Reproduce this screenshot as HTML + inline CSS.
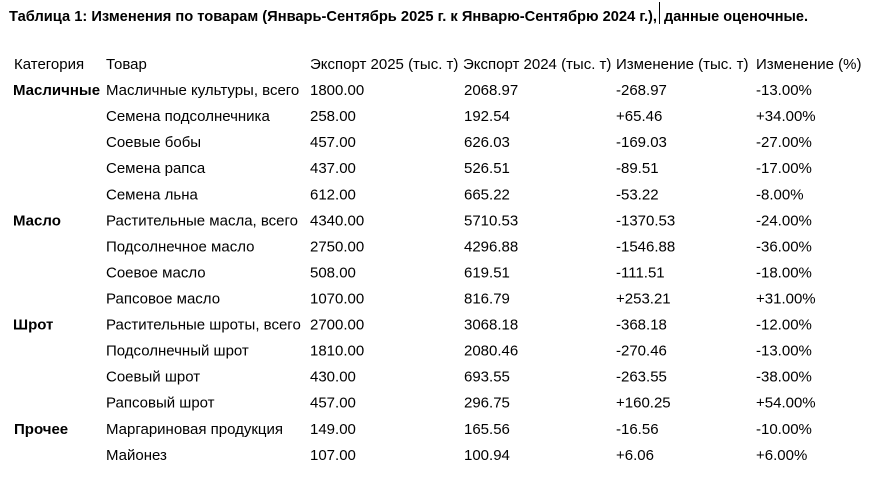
<!DOCTYPE html>
<html><head><meta charset="utf-8"><style>
html,body{margin:0;padding:0;background:#fff;}
svg{display:block;}
text{font-family:"Liberation Sans","Noto Sans CJK SC",sans-serif;font-size:15px;fill:#000;}
.b{font-weight:bold;}
</style></head><body>
<svg width="870" height="487" viewBox="0 0 870 487" xmlns="http://www.w3.org/2000/svg">
<rect width="870" height="487" fill="#fff"/>
<text class="b" x="9" y="21" textLength="648" lengthAdjust="spacingAndGlyphs">Таблица 1: Изменения по товарам (Январь-Сентябрь 2025 г. к Январю-Сентябрю 2024 г.),</text>
<line x1="659.5" y1="2" x2="659.5" y2="24" stroke="#000" stroke-width="1"/>
<text class="b" x="664" y="21" textLength="144" lengthAdjust="spacingAndGlyphs">данные оценочные.</text>

<g>
<text x="14" y="69">Категория</text><text x="106" y="69">Товар</text><text x="310" y="69">Экспорт 2025 (тыс. т)</text><text x="463" y="69">Экспорт 2024 (тыс. т)</text><text x="616" y="69">Изменение (тыс. т)</text><text x="756" y="69">Изменение (%)</text>

<text class="b" x="13" y="95">Масличные</text><text x="106" y="95">Масличные культуры, всего</text><text x="310" y="95">1800.00</text><text x="464" y="95">2068.97</text><text x="616" y="95">-268.97</text><text x="756" y="95">-13.00%</text>
<text x="106" y="121">Семена подсолнечника</text><text x="310" y="121">258.00</text><text x="464" y="121">192.54</text><text x="616" y="121">+65.46</text><text x="756" y="121">+34.00%</text>
<text x="106" y="147">Соевые бобы</text><text x="310" y="147">457.00</text><text x="464" y="147">626.03</text><text x="616" y="147">-169.03</text><text x="756" y="147">-27.00%</text>
<text x="106" y="173">Семена рапса</text><text x="310" y="173">437.00</text><text x="464" y="173">526.51</text><text x="616" y="173">-89.51</text><text x="756" y="173">-17.00%</text>
<text x="106" y="199.5">Семена льна</text><text x="310" y="199.5">612.00</text><text x="464" y="199.5">665.22</text><text x="616" y="199.5">-53.22</text><text x="756" y="199.5">-8.00%</text>

<text class="b" x="13" y="225.5">Масло</text><text x="106" y="225.5">Растительные масла, всего</text><text x="310" y="225.5">4340.00</text><text x="464" y="225.5">5710.53</text><text x="616" y="225.5">-1370.53</text><text x="756" y="225.5">-24.00%</text>
<text x="106" y="251.5">Подсолнечное масло</text><text x="310" y="251.5">2750.00</text><text x="464" y="251.5">4296.88</text><text x="616" y="251.5">-1546.88</text><text x="756" y="251.5">-36.00%</text>
<text x="106" y="277.5">Соевое масло</text><text x="310" y="277.5">508.00</text><text x="464" y="277.5">619.51</text><text x="616" y="277.5">-111.51</text><text x="756" y="277.5">-18.00%</text>
<text x="106" y="303.5">Рапсовое масло</text><text x="310" y="303.5">1070.00</text><text x="464" y="303.5">816.79</text><text x="616" y="303.5">+253.21</text><text x="756" y="303.5">+31.00%</text>

<text class="b" x="13" y="329.5">Шрот</text><text x="106" y="329.5">Растительные шроты, всего</text><text x="310" y="329.5">2700.00</text><text x="464" y="329.5">3068.18</text><text x="616" y="329.5">-368.18</text><text x="756" y="329.5">-12.00%</text>
<text x="106" y="355.5">Подсолнечный шрот</text><text x="310" y="355.5">1810.00</text><text x="464" y="355.5">2080.46</text><text x="616" y="355.5">-270.46</text><text x="756" y="355.5">-13.00%</text>
<text x="106" y="381.5">Соевый шрот</text><text x="310" y="381.5">430.00</text><text x="464" y="381.5">693.55</text><text x="616" y="381.5">-263.55</text><text x="756" y="381.5">-38.00%</text>
<text x="106" y="407.7">Рапсовый шрот</text><text x="310" y="407.7">457.00</text><text x="464" y="407.7">296.75</text><text x="616" y="407.7">+160.25</text><text x="756" y="407.7">+54.00%</text>

<text class="b" x="14" y="434">Прочее</text><text x="106" y="434">Маргариновая продукция</text><text x="310" y="434">149.00</text><text x="464" y="434">165.56</text><text x="616" y="434">-16.56</text><text x="756" y="434">-10.00%</text>
<text x="106" y="460">Майонез</text><text x="310" y="460">107.00</text><text x="464" y="460">100.94</text><text x="616" y="460">+6.06</text><text x="756" y="460">+6.00%</text>
</g>
</svg>
</body></html>
